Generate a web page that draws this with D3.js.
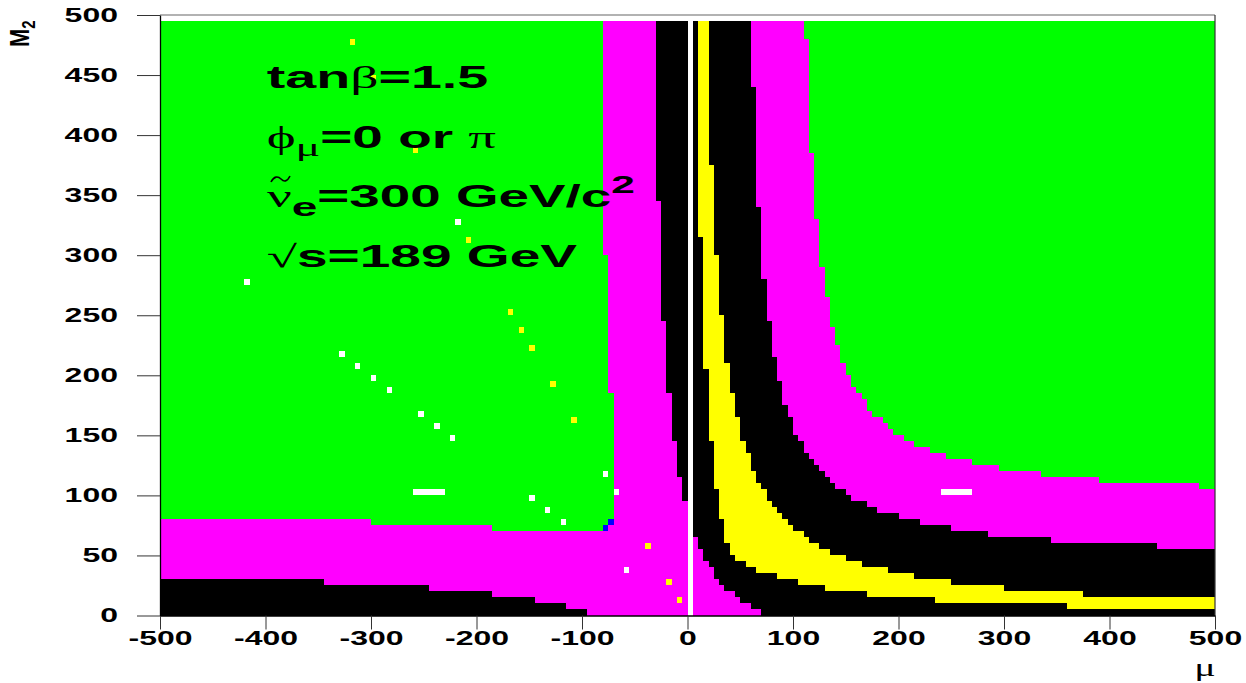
<!DOCTYPE html>
<html><head><meta charset="utf-8">
<script src="https://cdn.jsdelivr.net/npm/d3@7"></script>
<style>body{margin:0;background:#fff;overflow:hidden}</style>
</head><body>
<svg id="c" width="1246" height="683"></svg>
<script>
// ---------------- data (mu, M2 in GeV) ----------------
// step functions: [mu start, M2 level] ; last entry closes the range
const leftMagentaBand   = [[-500,80],[-300,75],[-185,70],[-75,75],[-70,75]];          // magenta from 0 up to level
const leftMagentaColumn = [[-80,300],[-75,185],[-70,0],[0,0]];                         // magenta from level up to top
const leftBlackBand     = [[-500,30],[-345,25],[-245,20],[-185,15],[-145,10],[-115,5],[-95,5]];
const leftBlackColumn   = [[-30,345],[-25,245],[-20,185],[-15,145],[-10,115],[-5,95],[0,95]];

const rightMagentaTop = [[5,495],[110,480],[115,385],[120,330],[125,290],[130,265],[135,240],[140,225],[145,210],
  [150,200],[155,190],[160,185],[165,180],[170,170],[175,165],[185,160],[190,155],[195,150],[205,145],[215,140],
  [230,135],[245,130],[270,125],[295,120],[335,115],[390,110],[485,105],[500,105]];
const rightBlackTop = [[5,495],[60,440],[65,340],[70,280],[75,245],[80,215],[85,195],[90,175],[95,165],[100,150],
  [105,145],[110,135],[115,130],[120,125],[125,120],[130,115],[135,110],[140,105],[150,100],[155,95],[170,90],
  [180,85],[200,80],[220,75],[250,70],[285,65],[345,60],[445,55],[500,55]];
const rightYellowTop = [[10,495],[20,375],[25,300],[30,250],[35,210],[40,185],[45,165],[50,145],[55,135],[60,120],
  [65,110],[70,105],[75,95],[80,90],[85,85],[90,80],[95,75],[100,70],[110,65],[115,60],[125,55],[135,50],[150,45],
  [165,40],[190,35],[215,30],[250,25],[300,20],[375,15],[500,15]];
const rightInnerBlackTop = [[5,495],[10,315],[15,205],[20,145],[25,105],[30,80],[35,60],[40,50],[45,45],[55,40],
  [65,35],[85,30],[105,25],[130,20],[170,15],[235,10],[360,5],[500,5]];
const rightMagentaPatch = [[5,65],[10,55],[15,45],[20,40],[25,30],[30,25],[35,20],[45,15],[50,10],[60,5],[70,5]];

const greenSpans = [[-500,0],[5,500]];
const m2Top = 495;

// single 5x5 GeV cells: [mu, M2, width]
const whiteCells = [[-420,275,5],[-330,215,5],[-315,205,5],[-300,195,5],[-285,185,5],[-255,165,5],[-240,155,5],
  [-225,145,5],[-220,325,5],[-150,95,5],[-135,85,5],[-120,75,5],[-80,115,5],[-70,100,5],[-60,35,5],
  [-260,100,30],[240,100,30]];
const yellowCells = [[-320,475,5],[-300,445,5],[-260,385,5],[-210,310,5],[-170,250,5],[-160,235,5],[-150,220,5],
  [-130,190,5],[-110,160,5],[-40,55,5],[-20,25,5],[-10,10,5]];
const blueCells = [[-80,70,5],[-75,75,5]];

const xTickLabels = [-500,-400,-300,-200,-100,0,100,200,300,400,500];
const yTickLabels = [0,50,100,150,200,250,300,350,400,450,500];

// ---------------- drawing ----------------
const svg = d3.select("#c");
const x = d3.scaleLinear().domain([-500,500]).range([160,1215]);
const y = d3.scaleLinear().domain([0,500]).range([615.5,15]);
const C = {green:"#00ff00", magenta:"#ff00ff", yellow:"#ffff00", black:"#000000", blue:"#0000ff", white:"#ffffff"};

const plot = svg.append("g").attr("shape-rendering","crispEdges");

greenSpans.forEach(s => plot.append("rect")
  .attr("x", x(s[0])).attr("width", x(s[1]) - x(s[0]))
  .attr("y", y(m2Top)).attr("height", y(0) - y(m2Top)).attr("fill", C.green));

function stepArea(data, lo, hi, color){
  const a = d3.area().curve(d3.curveStepAfter)
    .x(d => x(d[0])).y0(d => y(lo(d))).y1(d => y(hi(d)));
  plot.append("path").datum(data).attr("d", a).attr("fill", color);
}
const atZero = () => 0, atLevel = d => d[1], atTop = () => m2Top;

stepArea(leftMagentaBand, atZero, atLevel, C.magenta);
stepArea(leftMagentaColumn, atLevel, atTop, C.magenta);
stepArea(leftBlackBand, atZero, atLevel, C.black);
stepArea(leftBlackColumn, atLevel, atTop, C.black);

stepArea(rightMagentaTop, atZero, atLevel, C.magenta);
stepArea(rightBlackTop, atZero, atLevel, C.black);
stepArea(rightYellowTop, atZero, atLevel, C.yellow);
stepArea(rightInnerBlackTop, atZero, atLevel, C.black);
stepArea(rightMagentaPatch, atZero, atLevel, C.magenta);

function cells(arr, color){
  plot.selectAll(null).data(arr).enter().append("rect")
    .attr("x", d => x(d[0])).attr("width", d => x(d[0] + d[2]) - x(d[0]))
    .attr("y", d => y(d[1] + 5)).attr("height", d => y(d[1]) - y(d[1] + 5))
    .attr("fill", color);
}
cells(whiteCells, C.white);
cells(yellowCells, C.yellow);
cells(blueCells, C.blue);

// frame
svg.append("line").attr("x1", x(-500)).attr("x2", x(500)).attr("y1", y(500)).attr("y2", y(500))
  .attr("stroke", "#666").attr("stroke-width", 1.2);
svg.append("line").attr("x1", x(500)).attr("x2", x(500)).attr("y1", y(500)).attr("y2", y(0))
  .attr("stroke", "#333").attr("stroke-width", 1.2);

// axes
const SX = 1.6;          // horizontal stretch of the original picture
const FONT = "'Liberation Sans', Arial, Helvetica, sans-serif";
const SERIF = "'Liberation Serif', 'Times New Roman', serif";
const fmt = d => String(d);

const gx = svg.append("g").attr("transform", `translate(0,${y(0)})`);
gx.call(d3.axisBottom(x).tickValues(x.ticks(50)).tickSize(6).tickSizeOuter(0).tickFormat(""));
gx.call(d3.axisBottom(x).tickValues(xTickLabels).tickSize(14).tickSizeOuter(0).tickFormat(fmt));
gx.selectAll("line").attr("stroke", "#333");
gx.selectAll(".domain").attr("stroke", "#000").attr("stroke-width", 1.3);
gx.selectAll("text").attr("y", 29.5).attr("dy", null)
  .attr("font-family", FONT).attr("font-weight", "bold").attr("font-size", 20).attr("fill", "#000")
  .attr("transform", `scale(${SX},1)`);

const gy = svg.append("g").attr("transform", `translate(${x(-500)},0)`);
gy.call(d3.axisLeft(y).tickValues(y.ticks(50)).tickSize(11).tickSizeOuter(0).tickFormat(""));
gy.call(d3.axisLeft(y).tickValues(yTickLabels).tickSize(23).tickSizeOuter(0).tickFormat(fmt));
gy.selectAll("line").attr("stroke", "#333");
gy.selectAll(".domain").attr("stroke", "#000").attr("stroke-width", 1.3);
gy.selectAll("text").attr("x", -42 / SX)
  .attr("font-family", FONT).attr("font-weight", "bold").attr("font-size", 20).attr("fill", "#000")
  .attr("transform", `scale(${SX},1)`);

// axis titles
svg.append("text").attr("transform", `translate(1205,676) scale(${SX},1)`)
  .attr("text-anchor", "middle").attr("font-family", SERIF).attr("font-size", 25).text("μ");
const m2 = svg.append("text").attr("transform", `translate(29,47) scale(1.25,1) rotate(-90)`)
  .attr("font-family", FONT).attr("font-weight", "bold").attr("font-size", 22);
m2.append("tspan").text("M");
m2.append("tspan").attr("font-size", 15).attr("dy", 5).text("2");

// annotation
const ann = svg.append("g");
function line(x0, base, targetW, parts){
  const t = ann.append("text").attr("font-size", 31).attr("fill", "#000");
  parts.forEach(p => {
    const s = t.append("tspan").text(p.t)
      .attr("font-family", p.serif ? SERIF : FONT)
      .attr("font-weight", p.serif ? "normal" : "bold");
    if (p.size) s.attr("font-size", p.size);
    if (p.dy) s.attr("dy", p.dy);
  });
  const w = t.node().getBBox().width;
  const sx = targetW / w;
  t.attr("transform", `translate(${x0},${base}) scale(${sx},1)`);
  return sx;
}
line(266.7, 87.7, 221.6, [{t:"tan"},{t:"β", serif:true},{t:"=1.5"}]);
line(266.7, 147.7, 230, [{t:"ϕ", serif:true},{t:"μ", serif:true, size:26, dy:8},{t:"=0 or ", dy:-8},{t:"π", serif:true}]);
line(267, 206.7, 368, [{t:"ν", serif:true},{t:"e", size:26, dy:9},{t:"=300 GeV/c", dy:-9},{t:"2", size:24, dy:-14}]);
line(266.7, 266.7, 311, [{t:"√", serif:true},{t:"s=189 GeV"}]);
// tilde accent over the sneutrino symbol
ann.append("path")
  .attr("d", "M271,182 C274,176 278,176 281,179 C284,182 287,182 290,176")
  .attr("fill", "none").attr("stroke", "#000").attr("stroke-width", 1.6);
</script>
</body></html>
